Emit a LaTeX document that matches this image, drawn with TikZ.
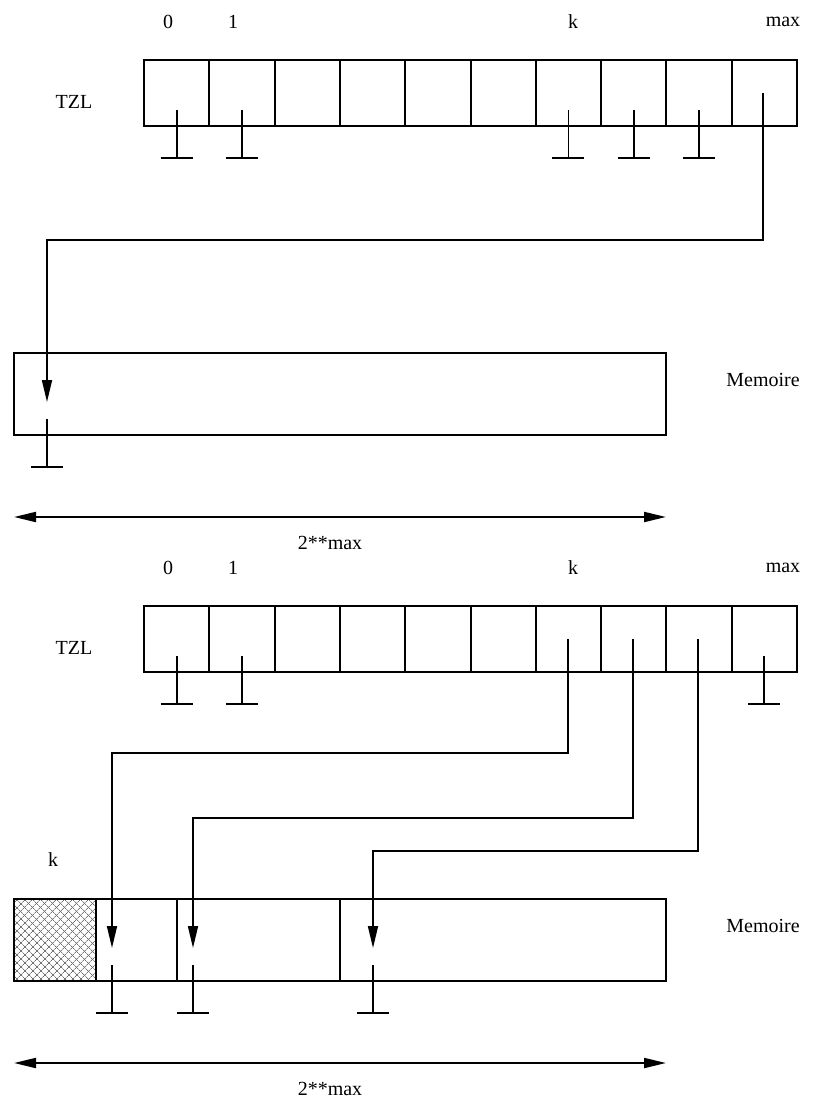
\documentclass[tikz,border=0pt]{standalone}
\usepackage{fontspec}
\setmainfont{Liberation Serif}
\usetikzlibrary{arrows.meta,patterns.meta}

\tikzset{every picture/.style={line width=1.5pt}}
\tikzset{
  lbl/.style={font=\fontsize{15}{18}\selectfont, inner sep=0pt},
  ptr/.style={-{Triangle[length=16.5pt,width=7.5pt]}},
  dimarrow/.style={{Triangle[length=16.5pt,width=7.5pt]}-{Triangle[length=16.5pt,width=7.5pt]}},
  hatch/.style={pattern={Lines[angle=#1,distance=4pt,line width=0.6pt]}, pattern color=gray!90!black},
  gndline/.style={line width=1.3pt}
}

\begin{document}
\begin{tikzpicture}[x=0.75pt,y=0.75pt,yscale=-1,xscale=1]
\useasboundingbox (0,0) rectangle (826,1098);

%Top part: table TZL
\foreach \i in {0,...,9} {
  \draw (144+65.3*\i,60) rectangle ++(65.3,66);
}
\foreach \c in {0,1,6,7,8} {
  \draw [gndline] ({144+65.3*(\c+0.5)},110) -- ++(0,48) ++(-16,0) -- ++(32,0);
}

%Top part: pointer of cell max
\coordinate (amax) at (763,93);
\coordinate (m0) at (47,402);
\draw [ptr,gndline] (amax) |- (47,240) -- (m0);

%Top part: memory
\draw (14,353) rectangle (666,435);
\draw [gndline] (47,419) -- ++(0,48) ++(-16,0) -- ++(32,0);

%Top part: size arrow
\coordinate (dl1) at (14,517);
\coordinate (dr1) at (666,517);
\draw [dimarrow] (dl1) -- (dr1);

% Text Node
\draw (168,22) node [lbl] (ta0) {0};
\draw (233,22) node [lbl] (ta1) {1};
\draw (573,22) node [lbl] (tak) {k};
\draw (783,22) node [lbl] (tamax) {max};
\draw (74,102) node [lbl] (tzla) {TZL};
\draw (763,380) node [lbl] (mema) {Memoire};
\draw (330,543) node [lbl] (sizea) {2**max};

%Bottom part: table TZL
\foreach \i in {0,...,9} {
  \draw (144+65.3*\i,606) rectangle ++(65.3,66);
}
\foreach \c in {0,1,9} {
  \draw [gndline] ({144+65.3*(\c+0.5)},656) -- ++(0,48) ++(-16,0) -- ++(32,0);
}

%Bottom part: pointers of cells k, k+1, k+2
\coordinate (b6) at (568,639);
\coordinate (b7) at (633,639);
\coordinate (b8) at (698,639);
\coordinate (n6) at (112,948);
\coordinate (n7) at (193,948);
\coordinate (n8) at (373,948);
\draw [ptr,gndline] (b6) |- (112,753) -- (n6);
\draw [ptr,gndline] (b7) |- (193,818) -- (n7);
\draw [ptr,gndline] (b8) |- (373,851) -- (n8);

%Bottom part: memory in blocks
\fill [hatch=45] (14,899) rectangle (96,981);
\fill [hatch=-45] (14,899) rectangle (96,981);
\draw (14,899) rectangle (666,981);
\draw (96,899) -- (96,981);
\draw (177,899) -- (177,981);
\draw (340,899) -- (340,981);
\foreach \x in {112,193,373} {
  \draw [gndline] (\x,965) -- ++(0,48) ++(-16,0) -- ++(32,0);
}

%Bottom part: size arrow
\coordinate (dl2) at (14,1063);
\coordinate (dr2) at (666,1063);
\draw [dimarrow] (dl2) -- (dr2);

% Text Node
\draw (168,568) node [lbl] (tb0) {0};
\draw (233,568) node [lbl] (tb1) {1};
\draw (573,568) node [lbl] (tbk) {k};
\draw (783,568) node [lbl] (tbmax) {max};
\draw (74,648) node [lbl] (tzlb) {TZL};
\draw (53,860) node [lbl] (blkk) {k};
\draw (763,926) node [lbl] (memb) {Memoire};
\draw (330,1089) node [lbl] (sizeb) {2**max};

\end{tikzpicture}
\end{document}
